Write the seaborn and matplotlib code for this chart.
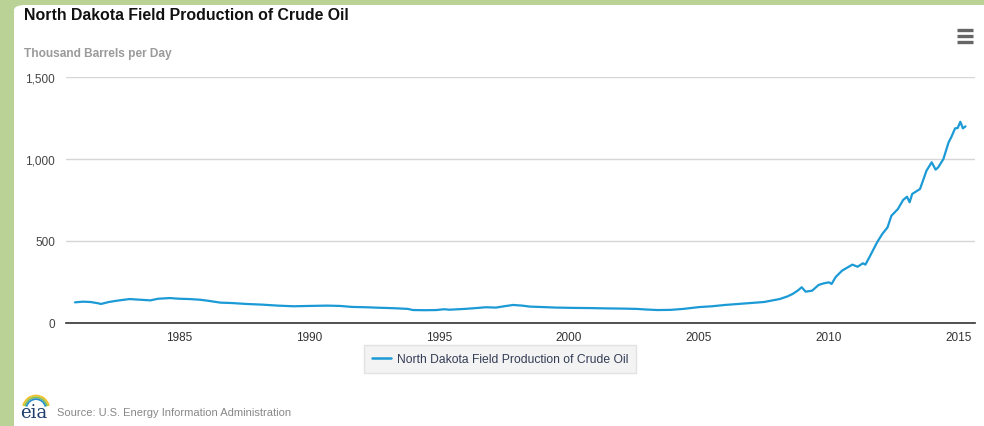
import pandas as pd
import matplotlib.pyplot as plt
import seaborn as sns
from matplotlib.patches import FancyBboxPatch, Arc
from matplotlib.lines import Line2D

# -----------------------------
# Data (thousand barrels per day)
# -----------------------------
years = [1981.0, 1981.3, 1981.6, 1981.9, 1982.0, 1982.3, 1982.7, 1983.1, 1983.5, 1983.9,
         1984.2, 1984.65, 1985.0, 1985.4, 1985.8, 1986.1, 1986.6, 1987.0, 1987.6, 1988.2,
         1988.8, 1989.4, 1990.0, 1990.7, 1991.2, 1991.65, 1992.2, 1992.7, 1993.3, 1993.8,
         1994.0, 1994.5, 1994.9, 1995.2, 1995.4, 1996.0, 1996.5, 1996.8, 1997.2, 1997.5,
         1997.85, 1998.2, 1998.5, 1998.85, 1999.5, 2000.2, 2000.8, 2001.45, 2002.0, 2002.6,
         2003.0, 2003.4, 2003.9, 2004.4, 2005.0, 2005.5, 2006.0, 2006.5, 2007.0, 2007.5,
         2008.1, 2008.4, 2008.6, 2008.8, 2008.95, 2009.1, 2009.35, 2009.6, 2009.8, 2010.0,
         2010.1, 2010.25, 2010.5, 2010.9, 2011.1, 2011.3, 2011.4, 2011.55, 2011.85, 2012.05,
         2012.25, 2012.4, 2012.65, 2012.85, 2013.0, 2013.1, 2013.2, 2013.5, 2013.75, 2013.95,
         2014.1, 2014.2, 2014.4, 2014.6, 2014.7, 2014.85, 2014.95, 2015.05, 2015.15, 2015.25]
production = [126, 130, 128, 120, 116, 128, 138, 146, 142, 138,
              148, 152, 148, 146, 142, 136, 124, 122, 116, 112,
              106, 102, 104, 106, 104, 98, 96, 93, 90, 86,
              79, 78, 79, 84, 81, 86, 92, 96, 94, 102,
              110, 106, 100, 98, 94, 92, 91, 89, 88, 86,
              82, 79, 80, 86, 97, 102, 110, 116, 122, 128,
              146, 162, 177, 198, 218, 191, 197, 232, 242, 248,
              238, 279, 319, 356, 343, 364, 356, 400, 492, 543,
              583, 654, 695, 750, 770, 736, 787, 817, 929, 980,
              935, 949, 1000, 1102, 1132, 1187, 1189, 1227, 1187, 1199]

series_name = "North Dakota Field Production of Crude Oil"
x_ticks = [1985, 1990, 1995, 2000, 2005, 2010, 2015]
y_ticks = [0, 500, 1000, 1500]

df = pd.DataFrame({"Year": years, "Production": production})

# -----------------------------
# Style
# -----------------------------
sns.set_style("white")
plt.rcParams['font.family'] = ['Liberation Sans', 'DejaVu Sans']

W, H = 984, 427
fig = plt.figure(figsize=(W / 100, H / 100), dpi=100)
fig.patch.set_facecolor("#bad296")

# white card (behind everything)
card = FancyBboxPatch((14 / W, -0.05), (W - 14) / W + 0.05, (H - 6) / H + 0.05,
                      boxstyle="round,pad=0,rounding_size=0.012",
                      transform=fig.transFigure, facecolor="white", edgecolor="none", zorder=-10)
fig.patches.append(card)

# -----------------------------
# Plot
# -----------------------------
ax = fig.add_axes([66 / W, 103 / H, (975 - 66) / W, (324 - 78) / H])
ax.set_facecolor("none")
sns.lineplot(data=df, x="Year", y="Production", ax=ax, color="#1b9ad6", linewidth=1.6, legend=False)

ax.set_xlim(1980.654, 2015.615)
ax.set_ylim(0, 1500)
ax.set_xticks(x_ticks)
ax.set_yticks(y_ticks)
ax.set_yticklabels([f"{v:,}" for v in y_ticks])
ax.set_xlabel("")
ax.set_ylabel("")
ax.grid(axis="y", color="#d6d6d6", linewidth=1.0)
ax.grid(axis="x", visible=False)
for s in ["top", "right", "left"]:
    ax.spines[s].set_visible(False)
ax.spines["bottom"].set_color("#333333")
ax.spines["bottom"].set_linewidth(1.2)
ax.tick_params(axis="x", direction="out", length=5, width=1, color="#333333",
               labelsize=8.5, labelcolor="#333333", pad=1)
ax.tick_params(axis="y", length=0, labelsize=8.5, labelcolor="#444444", pad=8)

# -----------------------------
# Titles and extras
# -----------------------------
fig.text(24 / W, 1 - 16 / H, series_name, fontsize=11.4, fontweight="bold",
         color="#111111", va="center", ha="left")
fig.text(24 / W, 1 - 54 / H, "Thousand Barrels per Day", fontsize=8.6, fontweight="bold",
         color="#9a9a9a", va="center", ha="left")

# menu icon
for yy in [31, 37, 43]:
    fig.add_artist(Line2D([957 / W, 973 / W], [1 - yy / H, 1 - yy / H], color="#666666",
                          linewidth=2.4, solid_capstyle="butt", transform=fig.transFigure))

# legend
leg = ax.legend(handles=[Line2D([0], [0], color="#1b9ad6", linewidth=1.8)],
                labels=[series_name], loc="center", bbox_to_anchor=(500 / W, 1 - 360 / H),
                bbox_transform=fig.transFigure, frameon=True, fontsize=8.7,
                handlelength=1.6, handletextpad=0.5, borderpad=0.65, fancybox=False)
leg.get_frame().set_facecolor("#f0f0f0")
leg.get_frame().set_edgecolor("#dddddd")
for t in leg.get_texts():
    t.set_color("#333d55")

# source line with eia mark
fig.text(20 / W, 1 - 413 / H, "eia", fontsize=13, family="DejaVu Serif", color="#1d3f6e",
         va="center", ha="left")
for r, c in [(0.030, "#f2c12e"), (0.026, "#8cc04b"), (0.022, "#2a8fd0")]:
    fig.add_artist(Arc((36 / W, 1 - 410 / H), r * 0.9, r * 2.1, theta1=30, theta2=150,
                       color=c, linewidth=1.3, transform=fig.transFigure))
fig.text(57 / W, 1 - 413 / H, "Source: U.S. Energy Information Administration", fontsize=8.0,
         color="#888888", va="center", ha="left")

plt.savefig("out.png", dpi=100, facecolor=fig.get_facecolor())
